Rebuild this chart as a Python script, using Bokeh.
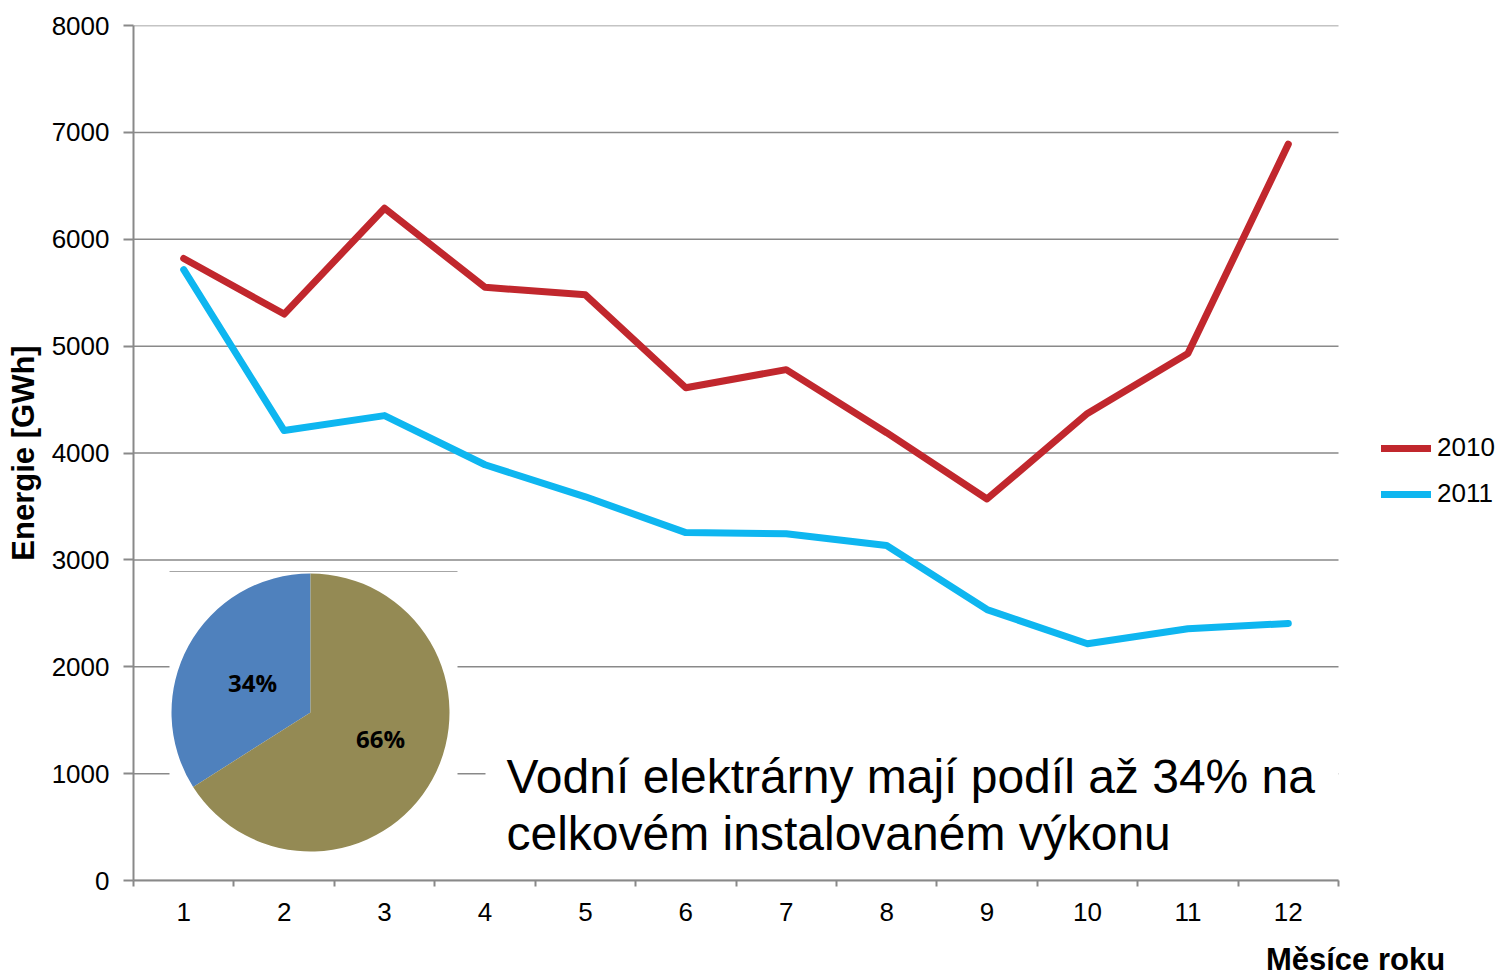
from bokeh.plotting import figure
from bokeh.models import (Range1d, FixedTicker, Label, Legend, LegendItem)
from bokeh.embed import file_html
from bokeh.resources import INLINE
import math

# ---- data ----
months = [1, 2, 3, 4, 5, 6, 7, 8, 9, 10, 11, 12]
energy_2010 = [5820, 5300, 6290, 5550, 5480, 4610, 4780, 4190, 3570, 4370, 4930, 6890]
energy_2011 = [5715, 4210, 4350, 3890, 3590, 3255, 3245, 3135, 2535, 2215, 2355, 2405]
series_names = ["2010", "2011"]
y_ticks = [0, 1000, 2000, 3000, 4000, 5000, 6000, 7000, 8000]
pie_shares = [34, 66]
pie_labels = ["34%", "66%"]
y_label = "Energie [GWh]"
x_label = "Měsíce roku"
note_lines = ["Vodní elektrárny mají podíl až 34% na", "celkovém instalovaném výkonu"]

FONT = "Liberation Sans"
GRAY = "#898989"
RED = "#C1272D"
BLUE = "#0EB6F0"

W, H = 1499, 979
# plotting area in page coords (the frame itself runs on to the right edge,
# so that the legend can sit inside it)
FX0, FX1, FY1, FY0 = 133, 1338, 25, 880
XMIN, XMAX, YMIN, YMAX = 0.5, 12.5, 0, 8000


def dx(px):
    return XMIN + (px - FX0) * (XMAX - XMIN) / (FX1 - FX0)


def dy(py):
    return YMIN + (FY0 - py) * (YMAX - YMIN) / (FY0 - FY1)


p = figure(width=W, height=H, output_backend="svg", toolbar_location=None,
           x_range=Range1d(XMIN, dx(W)), y_range=Range1d(YMIN, YMAX),
           min_border_left=FX0, min_border_right=0,
           min_border_top=FY1, min_border_bottom=H - FY0)
p.outline_line_color = None
p.background_fill_color = "white"
p.border_fill_color = "white"
p.xgrid.visible = False
p.ygrid.visible = False

# horizontal grid lines limited to the plotting area
p.segment(x0=XMIN, x1=XMAX, y0=y_ticks, y1=y_ticks, line_color=GRAY, line_width=1.5)

# y axis
ya = p.yaxis[0]
ya.ticker = FixedTicker(ticks=y_ticks)
ya.axis_line_color = GRAY
ya.axis_line_width = 2
ya.major_tick_line_color = GRAY
ya.major_tick_line_width = 2
ya.major_tick_out = 10
ya.major_tick_in = 0
ya.minor_tick_out = 0
ya.minor_tick_in = 0
ya.major_label_text_font = FONT
ya.major_label_text_font_size = "26px"
ya.major_label_text_color = "black"
ya.major_label_standoff = 14
ya.axis_label = y_label
ya.axis_label_text_font = FONT
ya.axis_label_text_font_style = "bold"
ya.axis_label_text_font_size = "31px"
ya.axis_label_text_color = "black"
ya.axis_label_standoff = 8

# x axis (line limited to the 12 months)
xa = p.xaxis[0]
xa.bounds = (XMIN, XMAX)
xa.ticker = FixedTicker(ticks=months, minor_ticks=[m - 0.5 for m in months] + [months[-1] + 0.5])
xa.axis_line_color = GRAY
xa.axis_line_width = 2
xa.major_tick_out = 0
xa.major_tick_in = 0
xa.minor_tick_line_color = GRAY
xa.minor_tick_line_width = 2
xa.minor_tick_out = 6
xa.minor_tick_in = 0
xa.major_label_text_font = FONT
xa.major_label_text_font_size = "26px"
xa.major_label_text_color = "black"
xa.major_label_standoff = 16

# x axis title, bottom right (in the lower border panel)
p.add_layout(Label(x=dx(1355), y=dy(959), text=x_label, text_font=FONT,
                   text_font_style="bold", text_font_size="31px", text_color="black",
                   text_align="center", text_baseline="middle"), "below")

# inset (pie) background
p.quad(left=dx(169), right=dx(457), top=dy(571), bottom=dy(866), fill_color="white", line_color=None)
p.segment(x0=dx(169), x1=dx(457), y0=dy(571), y1=dy(571), line_color="#A6A6A6", line_width=1)

# note text box background
p.quad(left=dx(485), right=XMAX, top=dy(745), bottom=dy(873), fill_color="white", line_color=None)

# series lines
r1 = p.line(months, energy_2010, line_color=RED, line_width=7, line_join="round", line_cap="round")
r2 = p.line(months, energy_2011, line_color=BLUE, line_width=7, line_join="round", line_cap="round")

# pie
pie_colors = ["#4F81BD", "#948A54"]
cx, cy = dx(310), dy(712)
start = math.pi / 2
total = sum(pie_shares)
for share, col in zip(pie_shares, pie_colors):
    end = start + 2 * math.pi * share / total
    p.wedge(x=cx, y=cy, radius=139, radius_units="screen", start_angle=start, end_angle=end,
            fill_color=col, line_color=None)
    start = end

for lab, (lx, ly) in zip(pie_labels, [(252, 682), (380, 738)]):
    p.add_layout(Label(x=dx(lx), y=dy(ly), text=lab, text_font="Open Sans",
                       text_font_style="bold", text_font_size="24px", text_color="black",
                       text_align="center", text_baseline="middle"))

# note text
for line, mid in zip(note_lines, [776, 833]):
    p.add_layout(Label(x=dx(506), y=dy(mid), text=line, text_font=FONT,
                       text_font_size="48px", text_color="black",
                       text_align="left", text_baseline="middle"))

# legend, inside the (extended) frame to the right of the plotting area
legend = Legend(items=[LegendItem(label=series_names[0], renderers=[r1]),
                       LegendItem(label=series_names[1], renderers=[r2])],
                location=(1381 - FX0, 371), orientation="vertical")
legend.padding = 0
legend.margin = 0
legend.border_line_alpha = 0
legend.background_fill_alpha = 0
legend.glyph_width = 50
legend.glyph_height = 20
legend.label_height = 20
legend.label_standoff = 6
legend.spacing = 15
legend.label_text_font = FONT
legend.label_text_font_size = "26px"
legend.label_text_color = "black"
p.add_layout(legend, "center")

open("out.html", "w").write(file_html(p, INLINE))
